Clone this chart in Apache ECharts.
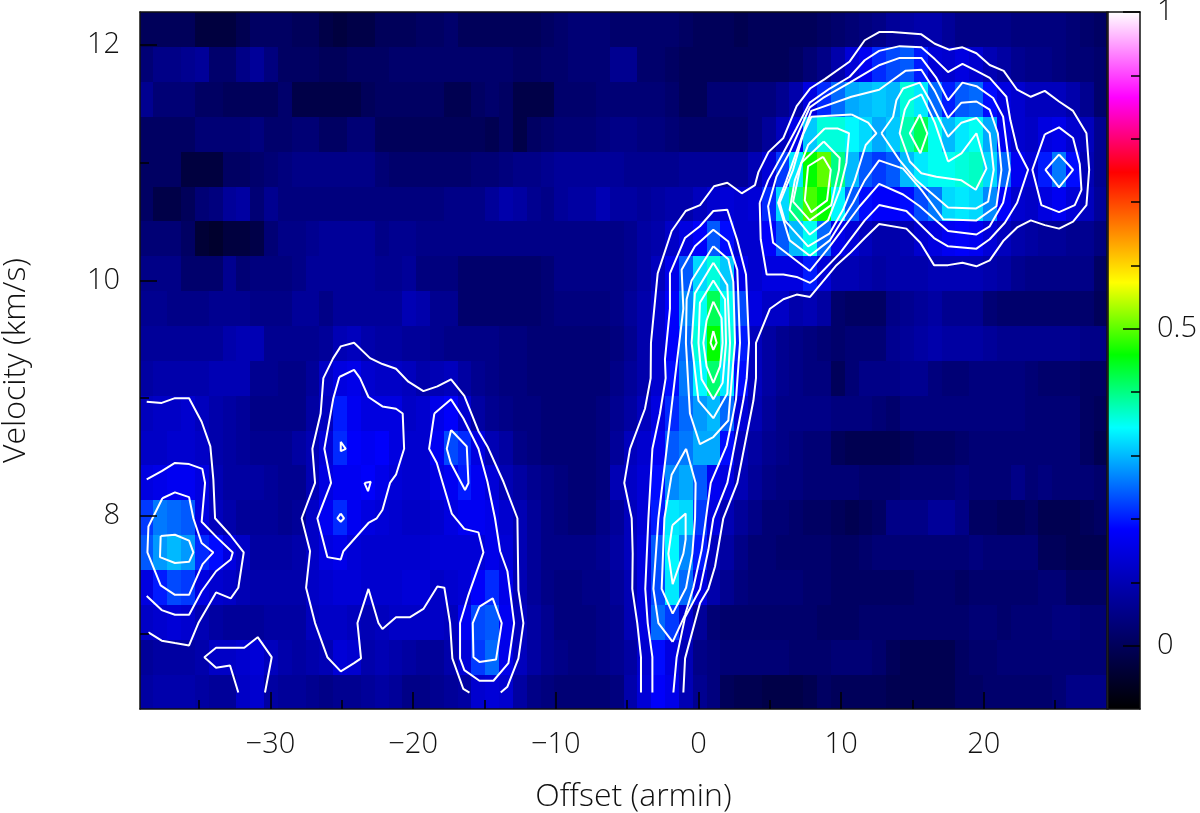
<!DOCTYPE html>
<html>
<head>
<meta charset="utf-8">
<title>Offset - velocity map</title>
<script src="https://cdn.jsdelivr.net/npm/echarts@6/dist/echarts.min.js"></script>
<style>
html, body { margin: 0; padding: 0; background: #fff; }
#chart { width: 1200px; height: 813px; }
</style>
</head>
<body>
<div id="chart"></div>
<script>
// heat map cells, one list per velocity row (bottom row first), in units of 0.01
const row00 = [8,9,9,9,8,7,7,12,13,8, 7,7,6,5,6,6,7,8,7,5, 5,6,7,8,13,14,13,8,5,4, 3,3,3,3,4,9,14,18,16,10, 6,4,0,-1,-1,-2,-2,-2,-1,1, 0,0,0,0,-1,-1,-1,-1,-1,1, 1,2,2,2,2,2,3,5,5,5]
const row01 = [7,8,8,8,9,12,12,13,14,11, 9,8,9,10,14,13,9,10,9,8, 7,7,9,14,22,25,16,11,8,6, 5,4,4,5,6,8,13,19,15,10, 5,4,3,3,3,3,3,2,2,2, 3,3,3,2,0,-1,-1,-1,-1,1, 2,2,3,3,3,3,3,3,3,3]
const row02 = [12,13,14,13,10,8,7,7,7,8, 8,8,11,12,12,11,10,11,12,12, 12,12,11,17,23,24,17,11,8,6, 4,4,4,5,6,10,15,25,22,13, 7,3,2,2,2,2,2,2,2,1, 1,1,2,2,2,2,2,2,2,2, 3,3,2,3,3,3,4,4,3,3]
const row03 = [15,20,23,22,15,13,12,10,9,9, 9,9,12,13,14,14,13,13,13,14, 14,12,13,14,18,21,16,10,7,5, 4,4,5,5,7,10,15,23,33,25, 15,9,6,4,3,3,3,3,2,2, 1,1,1,1,1,1,2,2,2,1, 2,2,2,2,2,3,3,1,1,1]
const row04 = [24,28,30,28,21,19,15,12,8,8, 8,9,12,15,16,14,13,13,13,13, 13,14,14,14,14,16,14,10,7,5, 5,5,5,6,8,11,15,24,34,27, 20,11,8,5,3,3,2,2,2,2, 1,1,2,3,3,3,3,3,3,3, 4,3,3,3,3,0,0,-1,-1,-1]
const row05 = [22,26,25,24,15,11,9,7,7,7, 6,7,12,17,21,17,15,14,13,12, 12,13,15,17,17,16,13,10,7,5, 4,3,3,5,7,11,14,20,33,32, 22,15,10,7,5,3,3,2,1,1, 0,-1,0,1,5,5,5,7,7,5, 1,1,0,0,1,-1,-1,-1,0,1]
const row06 = [15,16,17,17,15,10,8,8,8,7, 6,6,10,15,17,17,18,16,14,13, 13,15,17,20,17,14,10,8,6,5, 4,3,3,4,10,12,14,19,27,29, 24,17,15,10,7,5,4,4,3,3, 3,3,2,2,2,3,3,3,3,4, 3,3,3,5,3,4,3,3,3,2]
const row07 = [12,12,13,13,12,9,8,7,6,6, 6,8,10,14,21,18,17,18,15,13, 13,17,23,21,15,10,8,5,4,3, 3,3,3,4,7,11,13,17,24,26, 29,29,19,11,8,6,5,4,3,3, 0,-1,-1,-1,-1,0,1,1,1,2, 3,3,3,3,3,3,3,3,1,-1]
const row08 = [11,12,12,13,11,9,8,7,5,5, 5,5,8,11,20,17,15,15,15,12, 13,16,18,13,8,6,5,4,4,3, 3,3,3,4,6,8,11,15,21,25, 28,30,25,14,10,7,5,5,5,5, 4,4,4,3,2,4,4,4,4,4, 4,4,4,4,3,3,3,3,1,0]
const row09 = [8,9,9,9,9,10,10,10,6,6, 5,5,7,12,15,16,13,12,12,11, 9,10,11,8,6,5,4,4,3,3, 3,3,3,3,5,7,9,13,19,26, 34,41,33,19,11,8,6,5,4,4, 0,3,5,5,5,6,6,4,3,3, 4,4,4,4,3,2,2,2,1,1]
const row10 = [7,7,7,7,7,7,9,10,10,6, 6,6,6,7,10,11,9,8,8,7, 7,6,5,5,5,5,4,4,3,3, 3,3,3,3,4,6,9,13,18,25, 36,46,36,20,11,8,6,5,4,3, 2,3,3,3,6,7,8,9,8,8, 8,7,6,6,6,6,6,6,5,5]
const row11 = [6,6,5,5,5,6,6,6,5,5, 5,7,7,5,7,7,7,7,7,10, 9,6,6,2,2,2,2,2,2,3, 4,4,4,4,5,7,9,13,18,27, 35,42,35,23,15,12,12,9,10,8, 2,1,1,1,5,6,7,8,6,6, 6,3,2,2,2,2,2,2,2,0]
const row12 = [5,5,5,2,2,2,6,3,4,4, 4,5,7,7,7,7,7,6,6,7, 4,4,4,2,2,2,2,2,2,3, 5,5,5,5,5,6,8,11,16,24, 32,36,31,16,13,15,15,15,20,14, 10,10,9,8,9,9,9,10,10,10, 10,9,8,6,5,5,5,5,5,1]
const row13 = [3,3,3,1,-4,-5,-3,-3,-2,3, 5,5,6,7,7,7,7,5,6,6, 5,5,5,5,5,5,5,5,5,5, 5,5,5,5,5,6,8,9,12,15, 18,24,19,13,13,18,24,30,35,25, 16,14,11,9,9,10,13,15,17,18, 17,14,11,9,8,7,7,6,6,4]
const row14 = [1,-2,-2,0,3,4,7,8,3,6, 4,4,4,4,4,4,4,4,4,4, 4,4,5,5,5,7,9,8,6,5, 7,8,8,10,8,8,7,8,9,9, 11,13,14,13,14,21,32,40,49,46, 34,24,19,18,18,19,23,26,32,33, 32,27,18,13,12,15,17,14,11,7]
const row15 = [1,1,1,-3,-3,-3,1,1,2,3, 4,5,5,5,5,5,5,3,2,2, 2,2,2,2,3,3,4,5,5,6, 7,7,7,7,7,6,6,6,6,7, 7,7,7,7,10,14,22,33,46,50, 40,30,24,22,24,30,33,35,35,36, 37,32,25,17,14,20,26,19,10,6]
const row16 = [1,1,1,1,3,3,3,3,4,2, 2,3,3,1,1,3,3,0,0,0, 0,0,0,0,0,-1,1,-2,1,2, 3,3,3,4,5,5,4,4,3,2, 2,2,2,2,4,7,11,16,31,36, 36,34,32,29,31,38,42,35,30,33, 35,29,17,13,12,15,16,13,11,6]
const row17 = [6,3,3,3,1,1,0,0,0,0, 2,-2,-2,-2,-2,-2,0,1,1,1, 1,1,-1,-1,1,2,1,-2,-2,-2, 2,2,2,3,3,3,3,3,2,0, 0,3,3,3,4,4,6,9,15,21, 25,29,30,31,30,36,33,25,20,24, 25,19,15,13,11,11,11,9,6,2]
const row18 = [3,5,5,6,7,2,2,5,7,4, 1,1,1,0,0,1,1,1,2,2, 2,2,2,2,2,2,2,1,1,2, 2,3,3,3,6,6,2,2,1,0, 0,0,0,0,0,0,0,1,3,5, 9,14,17,21,23,24,20,14,13,15, 13,10,8,6,5,5,4,3,3,2]
const row19 = [0,0,0,0,-3,-3,-3,-1,1,1, 1,0,0,-2,-3,-2,-2,0,0,0, 1,1,2,0,0,0,0,0,0,1, 2,3,3,3,2,2,2,2,2,1, 0,0,0,-1,0,0,0,0,0,1, 2,3,4,5,7,8,9,9,7,5, 5,5,5,4,4,4,4,3,2,1]
const heatRows = [row00,row01,row02,row03,row04,row05,row06,row07,row08,row09,row10,row11,row12,row13,row14,row15,row16,row17,row18,row19]

// cell centres
const firstOffset = -38.68
const offsetStep = 0.969
const firstVelocity = 6.505
const velocityStep = 0.296

// contours, [offset, velocity]
const leftOuter = [[-38.67,8.97],[-37.62,8.96],[-36.69,9],[-35.7,9],[-34.82,8.8],[-34.21,8.59],[-34,8.31],[-33.88,7.98],[-32.83,7.84],[-31.87,7.69],[-32.25,7.39],[-32.78,7.3],[-33.81,7.35],[-35.05,7.09],[-35.7,6.9],[-36.69,6.92],[-37.62,6.94],[-38.55,7.01]]
const leftSecond = [[-38.67,8.31],[-37.62,8.38],[-36.69,8.45],[-35.7,8.44],[-34.77,8.4],[-34.58,8.28],[-34.82,7.95],[-33.77,7.82],[-32.64,7.69],[-32.78,7.63],[-33.81,7.53],[-34.82,7.36],[-35.7,7.16],[-36.69,7.16],[-37.62,7.2],[-38.67,7.32]]
const leftThird = [[-37.57,8.15],[-36.69,8.2],[-35.7,8.16],[-35.4,7.98],[-34.82,7.77],[-34,7.69],[-34.75,7.59],[-35.7,7.33],[-36.69,7.33],[-37.69,7.41],[-38.62,7.69],[-38.55,7.91]]
const leftInner = [[-37.69,7.83],[-36.69,7.84],[-35.7,7.79],[-35.4,7.69],[-35.7,7.61],[-36.69,7.6],[-37.74,7.65]]
const lowerPatch = [[-32.25,6.5],[-32.83,6.73],[-33.81,6.71],[-34.63,6.8],[-33.81,6.88],[-31.83,6.88],[-30.89,6.97],[-29.91,6.8],[-30.38,6.5]]
const midOuter = [[-16.05,6.5],[-16.48,6.53],[-17.25,6.79],[-17.41,7.09],[-17.81,7.39],[-18.3,7.4],[-19.28,7.21],[-20.21,7.14],[-21.2,7.14],[-22.15,7.04],[-22.43,7.09],[-23.13,7.38],[-23.9,7.09],[-23.65,6.79],[-24.14,6.75],[-25.07,6.68],[-26.01,6.8],[-26.87,7.09],[-27.5,7.39],[-27.22,7.7],[-27.81,7.98],[-26.87,8.28],[-27.06,8.57],[-26.48,8.87],[-26.29,9.17],[-25.6,9.34],[-25.07,9.44],[-24.14,9.47],[-23.02,9.34],[-22.15,9.29],[-21.2,9.25],[-20.33,9.14],[-19.28,9.06],[-18.3,9.1],[-17.34,9.16],[-16.41,9.02],[-15.42,8.72],[-14.79,8.59],[-13.67,8.29],[-12.69,7.98],[-12.62,7.37],[-12.27,7.09],[-12.62,6.79],[-13.39,6.55],[-13.86,6.5]]
const midLeftLobe = [[-25.17,9.18],[-24.14,9.24],[-23.72,9.17],[-23.13,9.01],[-22.15,8.93],[-21.2,8.91],[-20.73,8.87],[-20.63,8.57],[-21.2,8.35],[-21.62,8.28],[-22.15,8.05],[-22.55,7.98],[-23.13,7.94],[-24.89,7.7],[-25.07,7.63],[-26.01,7.65],[-26.71,7.98],[-25.75,8.28],[-26.22,8.57],[-25.59,9]]
const midSpotA = [[-25.07,8.63],[-24.72,8.57],[-25.07,8.55]]
const midSpotB = [[-23.41,8.28],[-22.97,8.29],[-23.16,8.21]]
const midSpotC = [[-25.07,8.02],[-24.84,7.98],[-25.07,7.95],[-25.31,7.98]]
const midRightLobe = [[-18.51,8.87],[-17.34,8.99],[-16.48,8.83],[-15.42,8.57],[-14.79,8.29],[-14.26,7.98],[-13.9,7.7],[-13.39,7.53],[-12.92,7.09],[-13.32,6.75],[-14.37,6.6],[-15.35,6.6],[-16.41,6.69],[-16.71,6.79],[-16.71,7.09],[-16.12,7.33],[-15.07,7.69],[-15.42,7.86],[-16.41,7.89],[-17.29,8.02],[-18.34,8.45],[-18.88,8.57]]
const midUpperCore = [[-17.34,8.73],[-16.24,8.59],[-16.12,8.28],[-16.36,8.22],[-17.36,8.45],[-17.64,8.57]]
const midLowerCore = [[-15.35,7.23],[-14.42,7.3],[-13.79,7.09],[-14.19,6.78],[-15.35,6.76],[-15.77,6.8],[-15.82,7.09]]

const mainOuter = [[-4.03,6.5],[-4.03,6.8],[-4.29,7.09],[-4.64,7.38],[-4.61,7.68],[-4.68,7.98],[-5.2,8.28],[-4.8,8.57],[-3.75,8.91],[-3.35,9.17],[-3.33,9.47],[-2.86,10.06],[-1.88,10.42],[-0.9,10.59],[0.11,10.64],[1.09,10.8],[2.02,10.83],[3.03,10.74],[3.96,10.81],[4.2,10.92],[4.9,11.09],[5.95,11.21],[6.88,11.48],[7.82,11.63],[8.85,11.71],[10.6,11.86],[11.65,12.04],[12.66,12.11],[13.59,12.11],[15.62,12.09],[16.56,12.01],[17.56,11.96],[18.5,11.98],[19.48,11.93],[20.41,11.83],[21.39,11.78],[22.33,11.62],[23.29,11.56],[24.27,11.61],[25.27,11.52],[26.25,11.44],[27.19,11.25],[27.38,10.94],[27.19,10.64],[26.25,10.5],[25.27,10.44],[24.27,10.47],[23.29,10.51],[22.33,10.45],[21.39,10.34],[20.41,10.17],[19.48,10.12],[18.5,10.15],[17.49,10.13],[16.51,10.13],[15.55,10.32],[14.57,10.44],[12.66,10.48],[11.65,10.36],[10.6,10.23],[9.67,10.13],[7.82,9.86],[6.88,9.88],[5.95,9.84],[5.01,9.76],[4.03,9.47],[4.03,9.17],[3.85,8.98],[2.72,8.28],[1.74,7.98],[1.16,7.57],[0.69,7.38],[0.11,7.26],[-0.94,6.79],[-1.06,6.5]]
const stemSecond = [[-3.23,6.5],[-3.23,6.8],[-3.56,7.09],[-3.73,7.38],[-3.51,7.98],[-3.23,8.57],[-2.7,8.87],[-2.3,9.17],[-2.35,9.33],[-2,9.76],[-2,10.06],[-0.95,10.36],[0.1,10.46],[1.04,10.59],[2.02,10.6],[2.72,10.34],[3.33,10.05],[3.54,9.47],[3.38,9.17],[3.14,8.98],[2.02,8.28],[1.04,7.98],[0.69,7.71],[0.11,7.38],[-0.94,7.14],[-1.53,6.8],[-1.76,6.5]]
const stemThird = [[-1.81,6.93],[-2.81,7.09],[-3.16,7.38],[-2.81,7.98],[-2.23,8.57],[-1.65,9.17],[-1.06,9.76],[-1.18,10.09],[-0.25,10.29],[1.04,10.43],[2.09,10.33],[2.72,10.09],[2.91,9.47],[2.63,8.99],[2.44,8.87],[1.98,8.6],[0.86,8.28],[0.22,7.71],[-0.36,7.39],[-0.94,7.16]]
const peakFourth = [[1.04,10.29],[2.09,10.18],[2.44,9.99],[2.56,9.47],[2.21,8.99],[2.09,8.81],[1.04,8.67],[0.1,8.61],[-0.6,8.87],[-0.88,9.47],[-0.83,9.84],[-0.48,10]]
const peakFifth = [[1.04,10.15],[2.02,9.96],[2.21,9.47],[2.02,9.04],[1.04,8.83],[0,8.98],[-0.48,9.47],[-0.25,9.89]]
const peakSixth = [[1.04,10],[1.86,9.84],[1.93,9.47],[1.69,9.13],[1.04,8.99],[0.22,9.16],[0,9.47],[0.1,9.81]]
const peakSeventh = [[1.04,9.82],[1.62,9.68],[1.69,9.47],[1.51,9.27],[1.04,9.13],[0.57,9.27],[0.34,9.47],[0.57,9.66]]
const peakInner = [[1.04,9.57],[1.27,9.47],[1.04,9.41],[0.85,9.47]]
const stemLobe = [[-0.87,8.57],[-0.2,8.28],[-0.24,7.98],[-0.43,7.68],[-0.87,7.39],[-1.81,7.17],[-2.58,7.38],[-2.39,7.98],[-1.88,8.35]]
const stemCore = [[-1.83,7.92],[-0.9,8.02],[-0.9,7.8],[-1.06,7.68],[-1.81,7.42],[-2.11,7.68]]

const arcSecond = [[4.29,10.66],[4.88,10.85],[5.93,11.08],[6.86,11.29],[7.8,11.51],[9.2,11.63],[10.6,11.73],[11.65,11.87],[12.66,11.95],[14.1,11.99],[15.62,11.98],[16.56,11.88],[17.49,11.77],[18.5,11.84],[19.48,11.78],[20.41,11.72],[21.58,11.56],[21.86,11.36],[22.33,11.12],[23.1,10.94],[22.33,10.66],[21.47,10.49],[20.41,10.35],[19.48,10.27],[17.49,10.29],[16.51,10.36],[14.57,10.59],[12.66,10.64],[11.65,10.51],[9.9,10.23],[8.15,10.01],[7.82,9.98],[6.88,10.03],[5.95,10.05],[4.78,10.05],[4.36,10.35]]
const arcThird = [[7.8,10.08],[5.23,10.32],[4.88,10.63],[5.46,10.88],[6.39,11.09],[7.8,11.47],[8.73,11.55],[10.6,11.68],[12.7,11.83],[14.1,11.89],[15.62,11.89],[16.67,11.72],[17.49,11.53],[18.5,11.68],[19.48,11.65],[20.65,11.55],[21.35,11.39],[21.82,10.94],[21.35,10.66],[20.41,10.46],[19.48,10.39],[17.49,10.42],[15.51,10.63],[14.34,10.73],[12.66,10.82],[11.3,10.63],[9.2,10.29]]
const arcFourth = [[7.8,10.21],[6.39,10.34],[5.58,10.66],[6.16,10.85],[7.33,11.25],[7.91,11.44],[10.72,11.56],[12.66,11.62],[14.5,11.78],[15.62,11.79],[16.56,11.61],[17.49,11.38],[18.43,11.51],[19.48,11.52],[20.41,11.45],[20.98,11.25],[21.23,10.94],[20.88,10.63],[19.48,10.51],[17.14,10.52],[15.62,10.77],[14.34,10.95],[12.66,11.02],[11.65,10.85],[10.83,10.66],[9.2,10.34]]
const arcFifthLeft = [[10.72,11.41],[11.89,11.34],[12.47,11.25],[11.72,11.15],[10.95,10.85],[10.13,10.6],[9.2,10.4],[7.68,10.29],[6.04,10.51],[5.69,10.66],[6.63,10.94],[7.33,11.24],[7.91,11.39]]
const arcFifthRight = [[12.82,11.25],[13.64,11.39],[13.87,11.53],[14.34,11.63],[15.51,11.68],[16.21,11.53],[16.91,11.36],[17.49,11.22],[18.43,11.34],[19.48,11.38],[20.41,11.25],[20.69,10.94],[20.3,10.67],[19.43,10.61],[17.49,10.62],[16.33,10.74],[15.27,10.85],[14.1,11.02]]
const arcSixthLeft = [[8.85,11.29],[9.78,11.29],[10.55,11.25],[10.37,11],[9.9,10.77],[9.08,10.51],[7.8,10.39],[6.39,10.6],[6.75,10.85],[7.68,11.15]]
const arcSixthRight = [[17.49,11.01],[18.43,11.08],[19.48,11.25],[20.18,10.95],[19.43,10.77],[18.43,10.85],[16.67,10.88],[15.62,10.91],[14.81,11.01],[14.1,11.25],[14.46,11.45],[14.81,11.53],[15.62,11.58],[16.56,11.34]]
const arcSeventhLeft = [[8.78,11.18],[9.9,11.04],[9.85,10.94],[9.3,10.64],[7.8,10.51],[6.63,10.67],[7.21,11]]
const arcSeventhRight = [[15.51,11.41],[16.04,11.25],[15.55,11.08],[14.81,11.25]]
const arcInner = [[8.73,11.05],[9.27,10.94],[9.01,10.68],[7.91,10.58],[7.45,10.68],[7.68,10.97]]
const farBlobOuter = [[24.27,11.24],[25.27,11.3],[26.25,11.21],[26.72,10.99],[26.84,10.77],[26.37,10.64],[25.27,10.58],[24.03,10.64],[23.4,10.94]]
const farBlobInner = [[25.27,11.07],[26.25,10.94],[25.27,10.79],[24.32,10.94]]

const openContours = [leftOuter, leftSecond, lowerPatch, midOuter, mainOuter, stemSecond]
const closedContours = [leftThird, leftInner, midLeftLobe, midSpotA, midSpotB, midSpotC, midRightLobe, midUpperCore, midLowerCore,
    stemThird, peakFourth, peakFifth, peakSixth, peakSeventh, peakInner, stemLobe, stemCore,
    arcSecond, arcThird, arcFourth, arcFifthLeft, arcFifthRight, arcSixthLeft, arcSixthRight, arcSeventhLeft, arcSeventhRight, arcInner,
    farBlobOuter, farBlobInner]

// ticks
const offsetMajorTicks = [-30, -20, -10, 0, 10, 20]
const offsetMinorTicks = [-35, -25, -15, -5, 5, 15, 25]
const velocityMajorTicks = [8, 10, 12]
const velocityMinorTicks = [7, 9, 11]
const scaleMajorTicks = [0, 0.5, 1]
const scaleMinorTicks = [0.1, 0.2, 0.3, 0.4, 0.6, 0.7, 0.8, 0.9]

// colour table: [value, colour]
const colourTable = [[-0.1,'#000000'],[0.184,'#0000ff'],[0.344,'#00ffff'],[0.459,'#00ff00'],[0.573,'#ffff00'],[0.747,'#ff0000'],[0.865,'#ff00ff'],[1,'#ffffff']]
const scaleMin = -0.1
const scaleMax = 1

const colourOf = (v) => {
    for (let i = 1; i < colourTable.length; i++) {
        const [v1, c1] = colourTable[i]
        if (v <= v1) {
            const [v0, c0] = colourTable[i - 1]
            return echarts.color.lerp((v - v0) / (v1 - v0), [c0, c1])
        }
    }
    return colourTable[colourTable.length - 1][1]
}

const heatData = []
heatRows.forEach((row, r) => {
    row.forEach((v, c) => {
        heatData.push([firstOffset + c * offsetStep, firstVelocity + r * velocityStep, v * 0.01])
    })
})

const renderCell = (params, api) => {
    const x = api.value(0)
    const y = api.value(1)
    const a = api.coord([x - offsetStep / 2, y + velocityStep / 2])
    const b = api.coord([x + offsetStep / 2, y - velocityStep / 2])
    const left = Math.round(a[0])
    const top = Math.round(a[1])
    return {
        type: 'rect',
        shape: { x: left, y: top, width: Math.round(b[0]) - left, height: Math.round(b[1]) - top },
        style: { fill: colourOf(api.value(2)) }
    }
}

const renderScale = (params, api) => {
    const a = api.coord([0, scaleMax])
    const b = api.coord([1, scaleMin])
    const stops = colourTable.map(([v, c]) => ({ offset: (v - scaleMin) / (scaleMax - scaleMin), color: c }))
    return {
        type: 'rect',
        shape: { x: a[0], y: a[1], width: b[0] - a[0], height: b[1] - a[1] },
        style: { fill: new echarts.graphic.LinearGradient(0, 1, 0, 0, stops) }
    }
}

const labelFont = { fontFamily: 'Open Sans', fontWeight: 300, fontSize: 29, color: '#111' }
const titleFont = { fontFamily: 'Open Sans', fontWeight: 300, fontSize: 32, color: '#111' }
const frameLine = { show: true, onZero: false, lineStyle: { color: '#111', width: 1.5 } }
const noLine = { show: false, onZero: false }

// one axis for long ticks and labels, one for short ticks, one for the far side of the frame
const tickAxis = (base, ticks, length, labelMargin) => Object.assign({
    type: 'value',
    z: 10,
    splitLine: { show: false },
    axisLine: labelMargin ? frameLine : noLine,
    axisTick: { show: true, inside: true, length: length, customValues: ticks, lineStyle: { color: '#000', width: 1.5 } },
    axisLabel: labelMargin ? Object.assign({ show: true, customValues: ticks, margin: labelMargin }, labelFont) : { show: false }
}, base)

const frameAxis = (base) => Object.assign({
    type: 'value',
    z: 10,
    splitLine: { show: false },
    axisLine: frameLine,
    axisTick: { show: false },
    axisLabel: { show: false }
}, base)

const xBase = { gridIndex: 0, min: -39.14, max: 28.63 }
const yBase = { gridIndex: 0, min: 6.36, max: 12.28 }
const sBase = { gridIndex: 1, min: scaleMin, max: scaleMax }
const barBase = { gridIndex: 1, min: 0, max: 1 }

const contourSeries = (pts) => ({
    type: 'line',
    xAxisIndex: 0,
    yAxisIndex: 0,
    data: pts,
    symbol: 'none',
    silent: true,
    clip: true,
    z: 5,
    lineStyle: { color: '#fff', width: 2 }
})

const option = {
    animation: false,
    backgroundColor: '#fff',
    grid: [
        { left: 140, top: 12, width: 967, height: 697, outerBoundsMode: 'none' },
        { left: 1108, top: 12, width: 32, height: 697, outerBoundsMode: 'none' }
    ],
    xAxis: [
        tickAxis(Object.assign({
            position: 'bottom',
            name: 'Offset (armin)',
            nameLocation: 'middle',
            nameGap: 72,
            nameTextStyle: Object.assign({ padding: [0, 0, 0, 20] }, titleFont)
        }, xBase), offsetMajorTicks, 17, 21),
        tickAxis(Object.assign({ position: 'bottom' }, xBase), offsetMinorTicks, 9, 0),
        frameAxis(Object.assign({ position: 'top' }, xBase)),
        frameAxis(Object.assign({ position: 'bottom' }, barBase)),
        frameAxis(Object.assign({ position: 'top' }, barBase))
    ],
    yAxis: [
        tickAxis(Object.assign({
            position: 'left',
            name: 'Velocity (km/s)',
            nameLocation: 'middle',
            nameGap: 108,
            nameTextStyle: titleFont
        }, yBase), velocityMajorTicks, 17, 20),
        tickAxis(Object.assign({ position: 'left' }, yBase), velocityMinorTicks, 9, 0),
        frameAxis(Object.assign({ position: 'right' }, yBase)),
        tickAxis(Object.assign({ position: 'right' }, sBase), scaleMajorTicks, 17, 17),
        tickAxis(Object.assign({ position: 'right' }, sBase), scaleMinorTicks, 9, 0),
        frameAxis(Object.assign({ position: 'left' }, sBase))
    ],
    series: [
        {
            type: 'custom',
            xAxisIndex: 0,
            yAxisIndex: 0,
            clip: true,
            silent: true,
            z: 1,
            data: heatData,
            renderItem: renderCell
        },
        {
            type: 'custom',
            xAxisIndex: 3,
            yAxisIndex: 3,
            silent: true,
            z: 1,
            data: [[0]],
            renderItem: renderScale
        }
    ]
        .concat(openContours.map(contourSeries))
        .concat(closedContours.map((pts) => contourSeries(pts.concat([pts[0]]))))
}

// real minus sign on the offset labels
option.xAxis[0].axisLabel.formatter = (v) => String(v).replace('-', '\u2212')
option.yAxis[3].axisLabel.align = 'left'

const chart = echarts.init(document.getElementById('chart'), null, { renderer: 'canvas' })
chart.setOption(option)
</script>
</body>
</html>
